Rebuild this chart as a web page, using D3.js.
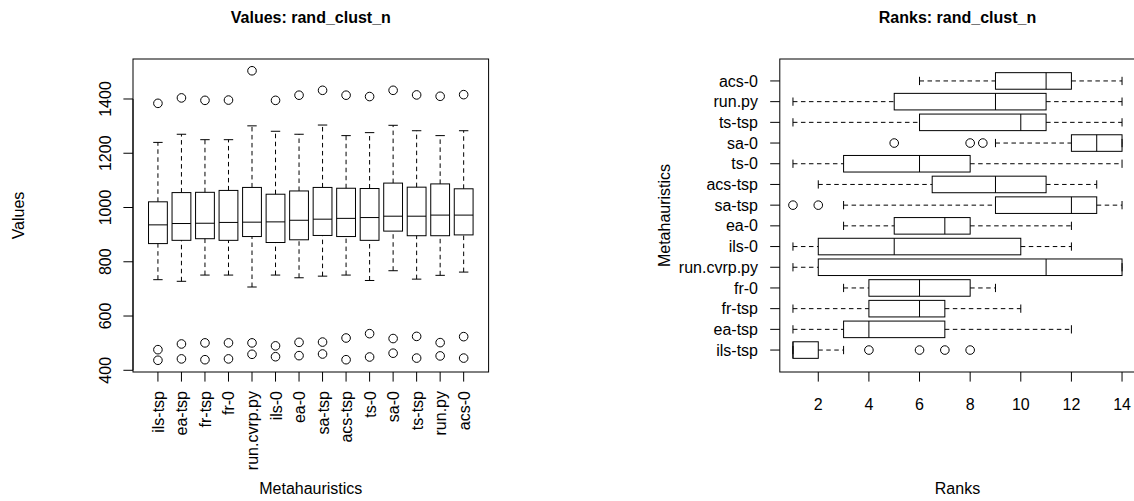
<!DOCTYPE html>
<html>
<head>
<meta charset="utf-8">
<script src="https://cdn.jsdelivr.net/npm/d3@7"></script>
<style>
  body { margin: 0; background: #fff; }
  text { font-family: "Liberation Sans", Arial, Helvetica, sans-serif; fill: #000; }
</style>
</head>
<body>
<svg id="chart" width="1134" height="501"></svg>
<script>

// methods, in the order R put them (sorted by median value)
let methods = ["ils-tsp", "ea-tsp", "fr-tsp", "fr-0", "run.cvrp.py", "ils-0", "ea-0",
               "sa-tsp", "acs-tsp", "ts-0", "sa-0", "ts-tsp", "run.py", "acs-0"]

// left panel: raw values (lower whisker, Q1, median, Q3, upper whisker, outliers)
let valLow = [734, 728, 751, 751, 707, 751, 741, 747, 751, 731, 767, 736, 750, 762]
let valQ1  = [867, 879, 885, 879, 893, 871, 881, 897, 893, 879, 913, 896, 896, 899]
let valMed = [936, 941, 942, 945, 946, 947, 953, 957, 960, 963, 968, 968, 972, 972]
let valQ3  = [1021, 1055, 1056, 1063, 1074, 1049, 1061, 1074, 1071, 1070, 1090, 1075, 1087, 1069]
let valHigh = [1240, 1270, 1250, 1250, 1301, 1281, 1270, 1304, 1265, 1276, 1303, 1283, 1265, 1283]
let valOut = [[1384, 476, 437], [1404, 497, 442], [1395, 501, 439], [1396, 501, 442],
              [1504, 501, 459], [1395, 490, 450], [1414, 503, 454], [1432, 504, 460],
              [1414, 519, 439], [1409, 535, 449], [1432, 517, 463], [1415, 525, 445],
              [1410, 502, 453], [1416, 524, 445]]
let valTicks = [400, 600, 800, 1000, 1200, 1400]

// right panel: ranks
let rankLow = [1, 1, 1, 3, 1, 1, 3, 3, 2, 1, 9, 1, 1, 6]
let rankQ1  = [1, 3, 4, 4, 2, 2, 5, 9, 6.5, 3, 12, 6, 5, 9]
let rankMed = [1, 4, 6, 6, 11, 5, 7, 12, 9, 6, 13, 10, 9, 11]
let rankQ3  = [2, 7, 7, 8, 14, 10, 8, 13, 11, 8, 14, 11, 11, 12]
let rankHigh = [3, 12, 10, 9, 14, 12, 12, 14, 13, 14, 14, 14, 14, 14]
let rankOut = [[4, 6, 7, 8], [], [], [], [], [], [], [1, 2], [], [], [5, 8, 8.5], [], [], []]
let rankTicks = [2, 4, 6, 8, 10, 12, 14]

let svg = d3.select('#chart')

let BOXW = 0.4      // half box width, in category units
let STAPLE = 0.2    // half staple width
let TICK = 9.6
let DASH = "4.5,3.5"

let stats = function (low, q1, med, q3, high, out) {
    return methods.map(function (m, i) {
        return { name: m, i: i + 1, low: low[i], q1: q1[i], med: med[i], q3: q3[i], high: high[i], out: out[i] }
    })
}

let valData = stats(valLow, valQ1, valMed, valQ3, valHigh, valOut)
let rankData = stats(rankLow, rankQ1, rankMed, rankQ3, rankHigh, rankOut)

// ---------------- left: values, vertical boxes ----------------
let L = { left: 133, right: 488.6, top: 59, bottom: 372 }
let x1 = d3.scaleLinear().domain([-0.06, 15.06]).range([L.left, L.right])
let y1 = d3.scaleLinear().domain([393.7, 1547.4]).range([L.bottom, L.top])

let g1 = svg.append('g')

let box1 = g1.selectAll('.vbox').data(valData).enter().append('g').attr('class', 'vbox')

// whiskers (dashed), drawn from whisker end to box / box to whisker end like R
box1.append('line')
    .attr('x1', d => x1(d.i)).attr('x2', d => x1(d.i))
    .attr('y1', d => y1(d.low)).attr('y2', d => y1(d.q1))
    .attr('stroke', '#000').attr('stroke-dasharray', DASH)
box1.append('line')
    .attr('x1', d => x1(d.i)).attr('x2', d => x1(d.i))
    .attr('y1', d => y1(d.q3)).attr('y2', d => y1(d.high))
    .attr('stroke', '#000').attr('stroke-dasharray', DASH)

// staples
box1.selectAll('.staple').data(d => [[d.i, d.low], [d.i, d.high]]).enter().append('line')
    .attr('x1', d => x1(d[0] - STAPLE)).attr('x2', d => x1(d[0] + STAPLE))
    .attr('y1', d => y1(d[1])).attr('y2', d => y1(d[1]))
    .attr('stroke', '#000')

box1.append('rect')
    .attr('x', d => x1(d.i - BOXW))
    .attr('y', d => y1(d.q3))
    .attr('width', d => x1(d.i + BOXW) - x1(d.i - BOXW))
    .attr('height', d => y1(d.q1) - y1(d.q3))
    .attr('fill', 'none').attr('stroke', '#000')

box1.append('line')
    .attr('x1', d => x1(d.i - BOXW)).attr('x2', d => x1(d.i + BOXW))
    .attr('y1', d => y1(d.med)).attr('y2', d => y1(d.med))
    .attr('stroke', '#000')

box1.selectAll('circle').data(d => d.out.map(v => [d.i, v])).enter().append('circle')
    .attr('cx', d => x1(d[0])).attr('cy', d => y1(d[1])).attr('r', 4.3)
    .attr('fill', 'none').attr('stroke', '#000')

// frame
g1.append('rect')
    .attr('x', L.left).attr('y', L.top)
    .attr('width', L.right - L.left).attr('height', L.bottom - L.top)
    .attr('fill', 'none').attr('stroke', '#000')

// y axis: ticks and vertical labels
g1.selectAll('.ytick').data(valTicks).enter().append('line')
    .attr('x1', L.left - TICK).attr('x2', L.left)
    .attr('y1', d => y1(d)).attr('y2', d => y1(d)).attr('stroke', '#000')
g1.append('line')
    .attr('x1', L.left).attr('x2', L.left)
    .attr('y1', y1(400)).attr('y2', y1(1400)).attr('stroke', '#000')
g1.selectAll('.ylab').data(valTicks).enter().append('text')
    .attr('transform', d => `translate(111, ${y1(d)}) rotate(-90)`)
    .attr('text-anchor', 'middle').style('font-size', '16px')
    .text(d => d)

// x axis: ticks and rotated method names
g1.selectAll('.xtick').data(valData).enter().append('line')
    .attr('x1', d => x1(d.i)).attr('x2', d => x1(d.i))
    .attr('y1', L.bottom).attr('y2', L.bottom + TICK).attr('stroke', '#000')
g1.selectAll('.xlab').data(valData).enter().append('text')
    .attr('transform', d => `translate(${x1(d.i) + 6}, 391) rotate(-90)`)
    .attr('text-anchor', 'end').style('font-size', '16px')
    .text(d => d.name)

g1.append('text').attr('x', (L.left + L.right) / 2).attr('y', 23)
    .attr('text-anchor', 'middle').style('font-size', '16px').style('font-weight', 'bold')
    .text('Values: rand_clust_n')
g1.append('text').attr('x', (L.left + L.right) / 2).attr('y', 494)
    .attr('text-anchor', 'middle').style('font-size', '16px')
    .text('Metahauristics')
g1.append('text').attr('transform', `translate(24, ${(L.top + L.bottom) / 2}) rotate(-90)`)
    .attr('text-anchor', 'middle').style('font-size', '16px')
    .text('Values')

// ---------------- right: ranks, horizontal boxes ----------------
let R = { left: 779.8, right: 1135.2, top: 59, bottom: 372 }
let x2 = d3.scaleLinear().domain([0.48, 14.52]).range([R.left, R.right])
let y2 = d3.scaleLinear().domain([-0.06, 15.06]).range([R.bottom, R.top])

let g2 = svg.append('g')

let box2 = g2.selectAll('.hbox').data(rankData).enter().append('g').attr('class', 'hbox')

box2.append('line')
    .attr('y1', d => y2(d.i)).attr('y2', d => y2(d.i))
    .attr('x1', d => x2(d.low)).attr('x2', d => x2(d.q1))
    .attr('stroke', '#000').attr('stroke-dasharray', DASH)
box2.append('line')
    .attr('y1', d => y2(d.i)).attr('y2', d => y2(d.i))
    .attr('x1', d => x2(d.q3)).attr('x2', d => x2(d.high))
    .attr('stroke', '#000').attr('stroke-dasharray', DASH)

box2.selectAll('.staple').data(d => [[d.i, d.low], [d.i, d.high]]).enter().append('line')
    .attr('y1', d => y2(d[0] - STAPLE)).attr('y2', d => y2(d[0] + STAPLE))
    .attr('x1', d => x2(d[1])).attr('x2', d => x2(d[1]))
    .attr('stroke', '#000')

box2.append('rect')
    .attr('x', d => x2(d.q1))
    .attr('y', d => y2(d.i + BOXW))
    .attr('width', d => x2(d.q3) - x2(d.q1))
    .attr('height', d => y2(d.i - BOXW) - y2(d.i + BOXW))
    .attr('fill', 'none').attr('stroke', '#000')

box2.append('line')
    .attr('y1', d => y2(d.i - BOXW)).attr('y2', d => y2(d.i + BOXW))
    .attr('x1', d => x2(d.med)).attr('x2', d => x2(d.med))
    .attr('stroke', '#000')

box2.selectAll('circle').data(d => d.out.map(v => [d.i, v])).enter().append('circle')
    .attr('cy', d => y2(d[0])).attr('cx', d => x2(d[1])).attr('r', 4.3)
    .attr('fill', 'none').attr('stroke', '#000')

g2.append('rect')
    .attr('x', R.left).attr('y', R.top)
    .attr('width', R.right - R.left).attr('height', R.bottom - R.top)
    .attr('fill', 'none').attr('stroke', '#000')

// y axis with method names
g2.selectAll('.ytick').data(rankData).enter().append('line')
    .attr('x1', R.left - TICK).attr('x2', R.left)
    .attr('y1', d => y2(d.i)).attr('y2', d => y2(d.i)).attr('stroke', '#000')
g2.selectAll('.ylab').data(rankData).enter().append('text')
    .attr('x', 758).attr('y', d => y2(d.i)).attr('dy', '0.35em')
    .attr('text-anchor', 'end').style('font-size', '16px')
    .text(d => d.name)

// x axis
g2.selectAll('.xtick').data(rankTicks).enter().append('line')
    .attr('x1', d => x2(d)).attr('x2', d => x2(d))
    .attr('y1', R.bottom).attr('y2', R.bottom + TICK).attr('stroke', '#000')
g2.selectAll('.xlab').data(rankTicks).enter().append('text')
    .attr('x', d => x2(d)).attr('y', 410)
    .attr('text-anchor', 'middle').style('font-size', '16px')
    .text(d => d)

g2.append('text').attr('x', (R.left + R.right) / 2).attr('y', 23)
    .attr('text-anchor', 'middle').style('font-size', '16px').style('font-weight', 'bold')
    .text('Ranks: rand_clust_n')
g2.append('text').attr('x', (R.left + R.right) / 2).attr('y', 494)
    .attr('text-anchor', 'middle').style('font-size', '16px')
    .text('Ranks')
g2.append('text').attr('transform', `translate(670, ${(R.top + R.bottom) / 2}) rotate(-90)`)
    .attr('text-anchor', 'middle').style('font-size', '16px')
    .text('Metahauristics')

</script>
</body>
</html>
